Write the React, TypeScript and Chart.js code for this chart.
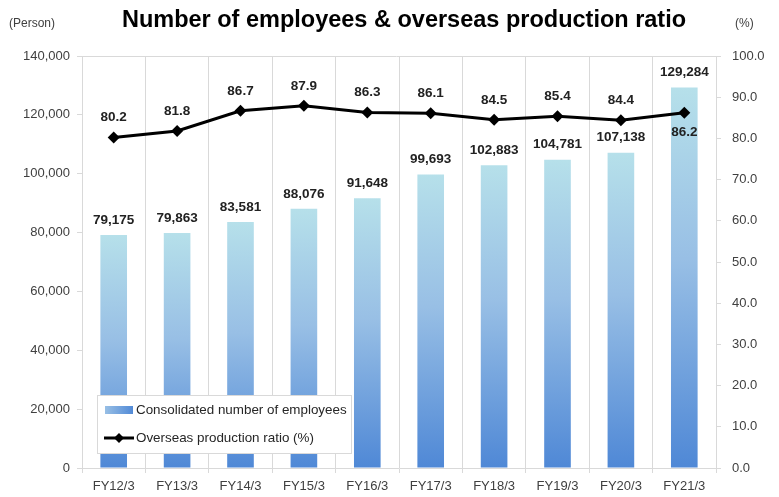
import React, { useEffect, useRef } from "react";
import { Chart, registerables } from "chart.js";

Chart.register(...registerables);

const categories = ["FY12/3", "FY13/3", "FY14/3", "FY15/3", "FY16/3", "FY17/3", "FY18/3", "FY19/3", "FY20/3", "FY21/3"];
const employees = [79175, 79863, 83581, 88076, 91648, 99693, 102883, 104781, 107138, 129284];
const ratio = [80.2, 81.8, 86.7, 87.9, 86.3, 86.1, 84.5, 85.4, 84.4, 86.2];
const barLabel = "Consolidated number of employees";
const lineLabel = "Overseas production ratio (%)";
const titleText = "Number of employees & overseas production ratio";
const leftUnit = "(Person)";
const rightUnit = "(%)";

const FONT = "'Liberation Sans', Arial, sans-serif";
const GRID = "#d9d9d9";
const TXT = "#404040";
const TOPC = "#b6e0ea";
const MIDC = "#98bfe5";
const BOTC = "#4f88d6";

function fmt(n: number) {
  return n.toLocaleString("en-US");
}

export default function App() {
  const ref = useRef<HTMLCanvasElement | null>(null);
  useEffect(() => {
    const canvas = ref.current;
    if (!canvas) return;

    const overlay = {
      id: "overlay",
      afterDraw(chart: any) {
        const ctx = chart.ctx;
        const ca = chart.chartArea;
        ctx.save();
        // top border line
        ctx.strokeStyle = GRID;
        ctx.lineWidth = 1;
        ctx.beginPath();
        ctx.moveTo(ca.left - 5, Math.round(ca.top) + 0.5);
        ctx.lineTo(ca.right, Math.round(ca.top) + 0.5);
        ctx.stroke();
        // title
        ctx.fillStyle = "#000";
        ctx.font = `bold 23.5px ${FONT}`;
        ctx.textAlign = "center";
        ctx.textBaseline = "middle";
        ctx.fillText(titleText, 404, 21);
        // units
        ctx.font = `12px ${FONT}`;
        ctx.fillStyle = TXT;
        ctx.textAlign = "left";
        ctx.fillText(leftUnit, 9, 24);
        ctx.fillText(rightUnit, 735, 24);

        // data labels
        ctx.font = `bold 13.5px ${FONT}`;
        ctx.fillStyle = "#222";
        ctx.textAlign = "center";
        ctx.textBaseline = "middle";
        const barMeta = chart.getDatasetMeta(1);
        barMeta.data.forEach((el: any, i: number) => {
          ctx.fillText(fmt(employees[i]), el.x, el.y - 15);
        });
        const lineMeta = chart.getDatasetMeta(0);
        lineMeta.data.forEach((el: any, i: number) => {
          const dy = i === ratio.length - 1 ? 19 : -20;
          ctx.fillText(ratio[i].toFixed(1), el.x, el.y + dy);
        });

        // legend
        const lx = 97, ly = 395, lw = 254, lh = 58;
        ctx.fillStyle = "#fff";
        ctx.fillRect(lx, ly, lw, lh);
        ctx.strokeStyle = GRID;
        ctx.strokeRect(lx + 0.5, ly + 0.5, lw, lh);
        const g = ctx.createLinearGradient(105, 0, 134, 0);
        g.addColorStop(0, MIDC);
        g.addColorStop(1, BOTC);
        ctx.fillStyle = g;
        ctx.fillRect(105, 406, 28, 8);
        ctx.strokeStyle = "#000";
        ctx.lineWidth = 3;
        ctx.beginPath();
        ctx.moveTo(104, 438);
        ctx.lineTo(134, 438);
        ctx.stroke();
        ctx.fillStyle = "#000";
        ctx.beginPath();
        ctx.moveTo(119, 433);
        ctx.lineTo(124, 438);
        ctx.lineTo(119, 443);
        ctx.lineTo(114, 438);
        ctx.closePath();
        ctx.fill();
        ctx.font = `13.4px ${FONT}`;
        ctx.fillStyle = "#262626";
        ctx.textAlign = "left";
        ctx.textBaseline = "middle";
        ctx.fillText(barLabel, 136, 410);
        ctx.fillText(lineLabel, 136, 438);
        ctx.restore();
      },
    };

    const chart = new Chart(canvas, {
      type: "bar",
      data: {
        labels: categories,
        datasets: [
          {
            type: "line",
            label: lineLabel,
            data: ratio,
            yAxisID: "y1",
            borderColor: "#000",
            backgroundColor: "#000",
            borderWidth: 3,
            pointStyle: "rectRot",
            pointRadius: 6,
            pointBorderWidth: 0,
            tension: 0,
          } as any,
          {
            type: "bar",
            label: barLabel,
            data: employees,
            yAxisID: "y",
            barPercentage: 0.42,
            categoryPercentage: 1,
            backgroundColor: (c: any) => {
              const ch = c.chart;
              if (!ch.chartArea || c.raw == null) return MIDC;
              const ys = ch.scales.y;
              const top = ys.getPixelForValue(c.raw);
              const bot = ys.getPixelForValue(0);
              const gr = ch.ctx.createLinearGradient(0, top, 0, bot);
              gr.addColorStop(0, TOPC);
              gr.addColorStop(0.45, MIDC);
              gr.addColorStop(1, BOTC);
              return gr;
            },
          } as any,
        ],
      },
      options: {
        animation: false,
        responsive: false,
        maintainAspectRatio: false,
        layout: { padding: { top: 56, left: 0, right: 0, bottom: 0 } },
        plugins: {
          legend: { display: false },
          title: { display: false },
          tooltip: { enabled: false },
        },
        scales: {
          x: {
            grid: { display: true, offset: true, color: GRID, tickLength: 5, drawTicks: true },
            border: { display: true, color: GRID },
            ticks: { color: TXT, font: { family: FONT, size: 13 }, padding: 6 },
            afterFit: (s: any) => { s.height = 29; },
          },
          y: {
            position: "left",
            min: 0,
            max: 140000,
            ticks: { stepSize: 20000, color: TXT, font: { family: FONT, size: 13 }, padding: 7, callback: (v: any) => fmt(Number(v)) },
            grid: { drawOnChartArea: false, color: GRID, tickLength: 5 },
            border: { display: true, color: GRID },
            afterFit: (s: any) => { s.width = 82; },
          },
          y1: {
            position: "right",
            min: 0,
            max: 100,
            ticks: { stepSize: 10, color: TXT, font: { family: FONT, size: 13 }, padding: 11, callback: (v: any) => Number(v).toFixed(1) },
            grid: { drawOnChartArea: false, color: GRID, tickLength: 5 },
            border: { display: true, color: GRID },
            afterFit: (s: any) => { s.width = 63; },
          },
        },
      },
      plugins: [overlay],
    });
    return () => chart.destroy();
  }, []);

  return (
    <div style={{ position: "absolute", left: 0, top: 0, width: 779, height: 497, background: "#fff" }}>
      <canvas ref={ref} width={779} height={497} style={{ display: "block" }} />
    </div>
  );
}
